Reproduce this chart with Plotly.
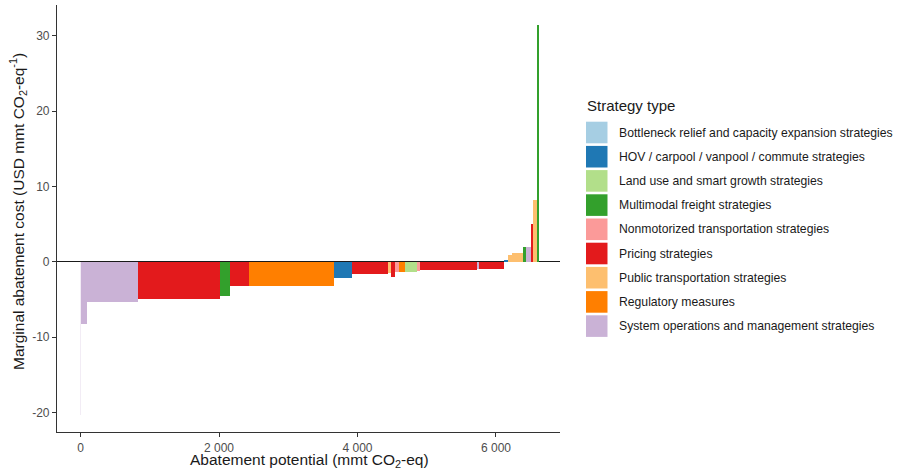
import numpy as np
import plotly.graph_objects as go

categories = [
    "Bottleneck relief and capacity expansion strategies",
    "HOV / carpool / vanpool / commute strategies",
    "Land use and smart growth strategies",
    "Multimodal freight strategies",
    "Nonmotorized transportation strategies",
    "Pricing strategies",
    "Public transportation strategies",
    "Regulatory measures",
    "System operations and management strategies",
]
palette = ["#A6CEE3", "#1F78B4", "#B2DF8A", "#33A02C", "#FB9A99",
           "#E31A1C", "#FDBF6F", "#FF7F00", "#CAB2D6"]

# strategies in cost order
strategy_type = [8, 8, 8, 5, 3, 5, 7, 1, 5, 6, 5, 4, 7, 2, 4, 5, 8, 5,
                 1, 6, 6, 3, 8, 5, 6, 3]
potential = [6, 84, 745, 1180, 145, 275, 1226, 255, 529, 39, 58, 58, 86,
             178, 39, 818, 38, 357, 57, 58, 163, 39, 68, 29, 58, 29]
cost = [-20.3, -8.2, -5.3, -4.95, -4.6, -3.2, -3.15, -2.17, -1.64, -1.5,
        -2.0, -1.4, -1.4, -1.3, -1.25, -1.06, -1.0, -0.98, 0.25, 0.9, 1.2,
        1.9, 1.9, 5.0, 8.2, 31.5]

x_ticks = [0, 2000, 4000, 6000]
x_tick_labels = ["0", "2 000", "4 000", "6 000"]
y_ticks = [-20, -10, 0, 10, 20, 30]
y_tick_labels = ["-20", "-10", "0", "10", "20", "30"]

potential = np.array(potential, dtype=float)
cost = np.array(cost, dtype=float)
stype = np.array(strategy_type)
right = np.cumsum(potential)
left = right - potential
center = (left + right) / 2
# sub-pixel bars are drawn faint, as antialiasing does in the original
opac = np.where(potential < 10, 0.25, 1.0)

fig = go.Figure()
for i, cat in enumerate(categories):
    m = stype == i
    if not m.any():
        continue
    fig.add_trace(go.Bar(
        x=center[m], y=cost[m], width=potential[m], name=cat,
        marker=dict(color=palette[i], line=dict(width=0), opacity=opac[m]),
        showlegend=False,
    ))

font = "Liberation Sans, Arial, sans-serif"
W, H = 898.0, 469.0
pl, pr, pt, pb = 57, 338, 5, 37
pw, ph = W - pl - pr, H - pt - pb
def px2paper(x, y):
    return (x - pl) / pw, (H - pb - y) / ph

shapes = []
annotations = []
for i, cat in enumerate(categories):
    cy = 132.5 + 24.2 * i
    x0, y0 = px2paper(586, cy + 10.8)
    x1, y1 = px2paper(607.5, cy - 10.8)
    shapes.append(dict(type="rect", xref="paper", yref="paper", x0=x0, y0=y0,
                       x1=x1, y1=y1, fillcolor=palette[i], line=dict(width=0)))
    tx, ty = px2paper(617, cy)
    annotations.append(dict(x=tx, y=ty, xref="paper", yref="paper", text=cat,
                            showarrow=False, xanchor="left", yanchor="middle",
                            font=dict(size=12.2, color="#1a1a1a", family=font)))
tx, ty = px2paper(585, 105)
annotations.append(dict(x=tx, y=ty, xref="paper", yref="paper", text="Strategy type",
                        showarrow=False, xanchor="left", yanchor="middle",
                        font=dict(size=15, color="#1a1a1a", family=font)))
# axis titles
tx, ty = px2paper(309, 460)
annotations.append(dict(x=tx, y=ty, xref="paper", yref="paper",
                        text="Abatement potential (mmt CO<sub>2</sub>-eq)",
                        showarrow=False, xanchor="center", yanchor="middle",
                        font=dict(size=15.5, color="#1a1a1a", family=font)))
tx, ty = px2paper(18, 212)
annotations.append(dict(x=tx, y=ty, xref="paper", yref="paper",
                        text="Marginal abatement cost (USD mmt CO<sub>2</sub>-eq<sup>-1</sup>)",
                        showarrow=False, xanchor="center", yanchor="middle", textangle=-90,
                        font=dict(size=15.5, color="#1a1a1a", family=font)))

fig.update_layout(
    width=898, height=469,
    margin=dict(l=pl, r=pr, t=pt, b=pb),
    paper_bgcolor="white", plot_bgcolor="white",
    barmode="overlay", bargap=0,
    font=dict(family=font, color="#4d4d4d"),
    shapes=shapes, annotations=annotations,
    xaxis=dict(range=[-340, 6925], tickvals=x_ticks, ticktext=x_tick_labels,
               showgrid=False, zeroline=False, showline=True, linecolor="#333333",
               linewidth=1.2, ticks="outside", ticklen=4, tickcolor="#333333",
               tickfont=dict(size=12, color="#4d4d4d"), automargin=False),
    yaxis=dict(range=[-22.6, 34.1], tickvals=y_ticks, ticktext=y_tick_labels,
               showgrid=False, zeroline=True, zerolinecolor="#1a1a1a", zerolinewidth=1.3,
               showline=True, linecolor="#333333", linewidth=1.2,
               ticks="outside", ticklen=4, tickcolor="#333333",
               tickfont=dict(size=12, color="#4d4d4d"), automargin=False),
)

fig.write_html("out.html", config={"displayModeBar": False},
               post_script="document.body.style.margin='0';document.body.style.overflow='hidden';")
